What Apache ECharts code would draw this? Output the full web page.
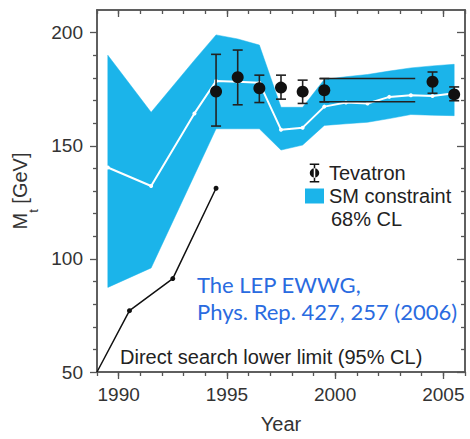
<!DOCTYPE html>
<html>
<head>
<meta charset="utf-8">
<script src="https://cdn.jsdelivr.net/npm/echarts@6/dist/echarts.min.js"></script>
<style>
html,body{margin:0;padding:0;background:#fff;}
#chart{width:470px;height:439px;}
</style>
</head>
<body>
<div id="chart"></div>
<script>
// ---- data ----
const bandYears   = [1989.5, 1991.5, 1993.5, 1994.5, 1995.5, 1996.5, 1997.5, 1998.5, 1999.5, 2000.5, 2001.5, 2002.5, 2003.5, 2004.5, 2005.5];
const bandUpper   = [190, 164.8, 187.8, 199, 197.2, 194.5, 167, 167, 179.3, 180.5, 181.5, 183, 184.4, 185.3, 186];
const bandLower   = [87.4, 96, 137, 157.5, 157.5, 157.5, 148.1, 150.3, 159, 159.7, 160.4, 162, 163.8, 163.5, 163.3];
const smCentral   = [140.4, 132.2, 164.3, 178.6, 178.3, 177.8, 157.1, 158, 167.3, 169.1, 168.7, 171.6, 172.3, 172, 173.2];

const tevYears    = [1994.5, 1995.5, 1996.5, 1997.5, 1998.5, 1999.5, 2004.5, 2005.5];
const tevMass     = [174, 180.3, 175.4, 175.7, 173.9, 174.5, 178.3, 172.7];
const tevLow      = [158.7, 168.1, 169.1, 170.6, 168.7, 169.4, 173.2, 169.9];
const tevHigh     = [190.4, 192.3, 181.2, 181.2, 179, 179.7, 182.6, 176];

const wideYears   = [1999.3, 2003.7];
const wideHigh    = [179.7, 179.7];
const wideLow     = [169.4, 169.4];

const directYears = [1989, 1990.5, 1992.5, 1994.5];
const directMass  = [50, 77.1, 91.3, 131.2];

const xMajorTicks = [1990, 1995, 2000, 2005];
const xMinorTicks = [1989, 1990, 1991, 1992, 1993, 1994, 1995, 1996, 1997, 1998, 1999, 2000, 2001, 2002, 2003, 2004, 2005, 2006];
const yMajorTicks = [50, 100, 150, 200];
const yMinorTicks = [60, 70, 80, 90, 110, 120, 130, 140, 160, 170, 180, 190];

// ---- chart ----
const FONT = 'Liberation Sans, Arial, sans-serif';
const AX = '#555';
const CYAN = '#1BB4EA';
const chart = echarts.init(document.getElementById('chart'), null, {renderer: 'svg'});

const zip = (a, b) => a.map((v, i) => [v, b[i]]);
const plain = v => String(v);

function xAx(pos, ticks, len, inside, labels, extra) {
  return Object.assign({
    type: 'value', position: pos, min: 1989, max: 2006,
    axisLine: {show: true, onZero: false, lineStyle: {color: AX, width: 1.5}},
    axisTick: {show: true, customValues: ticks, length: len, inside: inside, lineStyle: {color: AX, width: 1.3}},
    axisLabel: labels ? {customValues: labels, formatter: plain, margin: 13, fontSize: 19, color: '#333', fontFamily: FONT} : {show: false},
    splitLine: {show: false}
  }, extra || {});
}
function yAx(pos, ticks, len, inside, labels, extra) {
  return Object.assign({
    type: 'value', position: pos, min: 50, max: 210,
    axisLine: {show: true, onZero: false, lineStyle: {color: AX, width: 1.5}},
    axisTick: {show: true, customValues: ticks, length: len, inside: inside, lineStyle: {color: AX, width: 1.3}},
    axisLabel: labels ? {customValues: labels, formatter: plain, margin: 14, fontSize: 19, color: '#333', fontFamily: FONT} : {show: false},
    splitLine: {show: false}
  }, extra || {});
}

const errIcon = 'path://M3,0h10v1.6h-10z M7.2,0h1.6v20h-1.6z M3,18.4h10v1.6h-10z M3,10a5,5 0 1,0 10,0a5,5 0 1,0 -10,0z';

const option = {
  animation: false,
  grid: {left: 97, right: 5, top: 10, bottom: 60},
  xAxis: [
    xAx('bottom', xMajorTicks, 7, false, xMajorTicks, {
      name: 'Year', nameLocation: 'middle', nameGap: 42,
      nameTextStyle: {fontSize: 20, color: '#333', fontFamily: FONT}
    }),
    xAx('bottom', xMinorTicks, 4, false, null),
    xAx('top', xMajorTicks, 7, true, null),
    xAx('top', xMinorTicks, 4, true, null)
  ],
  yAxis: [
    yAx('left', yMajorTicks, 7, false, yMajorTicks, {
      name: '{m|M}{s|t}{m| [GeV]}', nameLocation: 'middle', nameGap: 56, nameRotate: 90,
      nameTextStyle: {color: '#333', fontFamily: FONT,
        rich: {
          m: {fontSize: 20, fontFamily: FONT, color: '#333', lineHeight: 22, verticalAlign: 'top'},
          s: {fontSize: 13, fontFamily: FONT, color: '#333', lineHeight: 30, verticalAlign: 'bottom'}
        }}
    }),
    yAx('left', yMinorTicks, 4, false, null),
    yAx('right', yMajorTicks, 8, true, null),
    yAx('right', yMinorTicks, 4, true, null)
  ],
  legend: {
    orient: 'vertical', left: 300, top: 158,
    itemWidth: 19, itemHeight: 19, itemGap: 3,
    textStyle: {fontSize: 20, color: '#222', fontFamily: FONT},
    data: [
      {name: 'Tevatron', icon: errIcon, itemStyle: {color: '#111', borderWidth: 0}},
      {name: 'SM constraint', icon: 'path://M0,0h19v15h-19z', itemStyle: {color: CYAN, borderWidth: 0}}
    ]
  },
  graphic: [
    {type: 'text', left: 331, top: 209, style: {text: '68% CL', font: '20px ' + FONT, fill: '#222'}},
    {type: 'text', left: 197, top: 271, style: {text: 'The LEP EWWG,\nPhys. Rep. 427, 257 (2006)', font: '22px Lato, sans-serif', lineHeight: 27, fill: '#2A6BE0'}},
    {type: 'text', left: 120, top: 347, style: {text: 'Direct search lower limit (95% CL)', font: '20px ' + FONT, fill: '#222'}}
  ],
  series: [
    {
      name: 'SM constraint', type: 'custom', z: 1, silent: true,
      itemStyle: {color: CYAN},
      data: bandYears.map((y, i) => [y, bandLower[i], bandUpper[i]]),
      renderItem: function (params, api) {
        if (params.dataIndex !== 0) return null;
        const top = bandYears.map((y, i) => api.coord([y, bandUpper[i]]));
        const bot = bandYears.map((y, i) => api.coord([y, bandLower[i]])).reverse();
        return {
          type: 'polygon',
          shape: {points: top.concat(bot)},
          style: {fill: CYAN, stroke: CYAN, lineWidth: 0.5}
        };
      }
    },
    {
      name: 'SM central', type: 'line', data: zip(bandYears, smCentral),
      symbol: 'circle', symbolSize: 4, showAllSymbol: true,
      lineStyle: {color: '#fff', width: 2}, itemStyle: {color: '#fff', borderWidth: 0}, z: 3
    },
    {
      name: 'Direct search', type: 'line',
      data: directYears.map((y, i) => ({value: [y, directMass[i]], symbolSize: i === 0 ? 0 : 5})),
      symbol: 'circle', showAllSymbol: true,
      lineStyle: {color: '#111', width: 1.5}, itemStyle: {color: '#111'}, z: 3
    },
    {
      name: 'wide high', type: 'line', data: zip(wideYears, wideHigh), symbol: 'none',
      lineStyle: {color: '#222', width: 1.5}, z: 4
    },
    {
      name: 'wide low', type: 'line', data: zip(wideYears, wideLow), symbol: 'none',
      lineStyle: {color: '#222', width: 1.5}, z: 4
    },
    {
      name: 'Tevatron', type: 'custom', z: 5,
      itemStyle: {color: '#111'},
      data: tevYears.map((y, i) => [y, tevMass[i], tevLow[i], tevHigh[i]]),
      renderItem: function (params, api) {
        const c = api.coord([api.value(0), api.value(1)]);
        const lo = api.coord([api.value(0), api.value(2)]);
        const hi = api.coord([api.value(0), api.value(3)]);
        const hw = 5;
        const st = {stroke: '#222', lineWidth: 1.6};
        return {
          type: 'group',
          children: [
            {type: 'line', shape: {x1: lo[0], y1: lo[1], x2: hi[0], y2: hi[1]}, style: st},
            {type: 'line', shape: {x1: lo[0] - hw, y1: lo[1], x2: lo[0] + hw, y2: lo[1]}, style: st},
            {type: 'line', shape: {x1: hi[0] - hw, y1: hi[1], x2: hi[0] + hw, y2: hi[1]}, style: st},
            {type: 'circle', shape: {cx: c[0], cy: c[1], r: 6}, style: {fill: '#111'}}
          ]
        };
      }
    }
  ]
};
chart.setOption(option);
</script>
</body>
</html>
